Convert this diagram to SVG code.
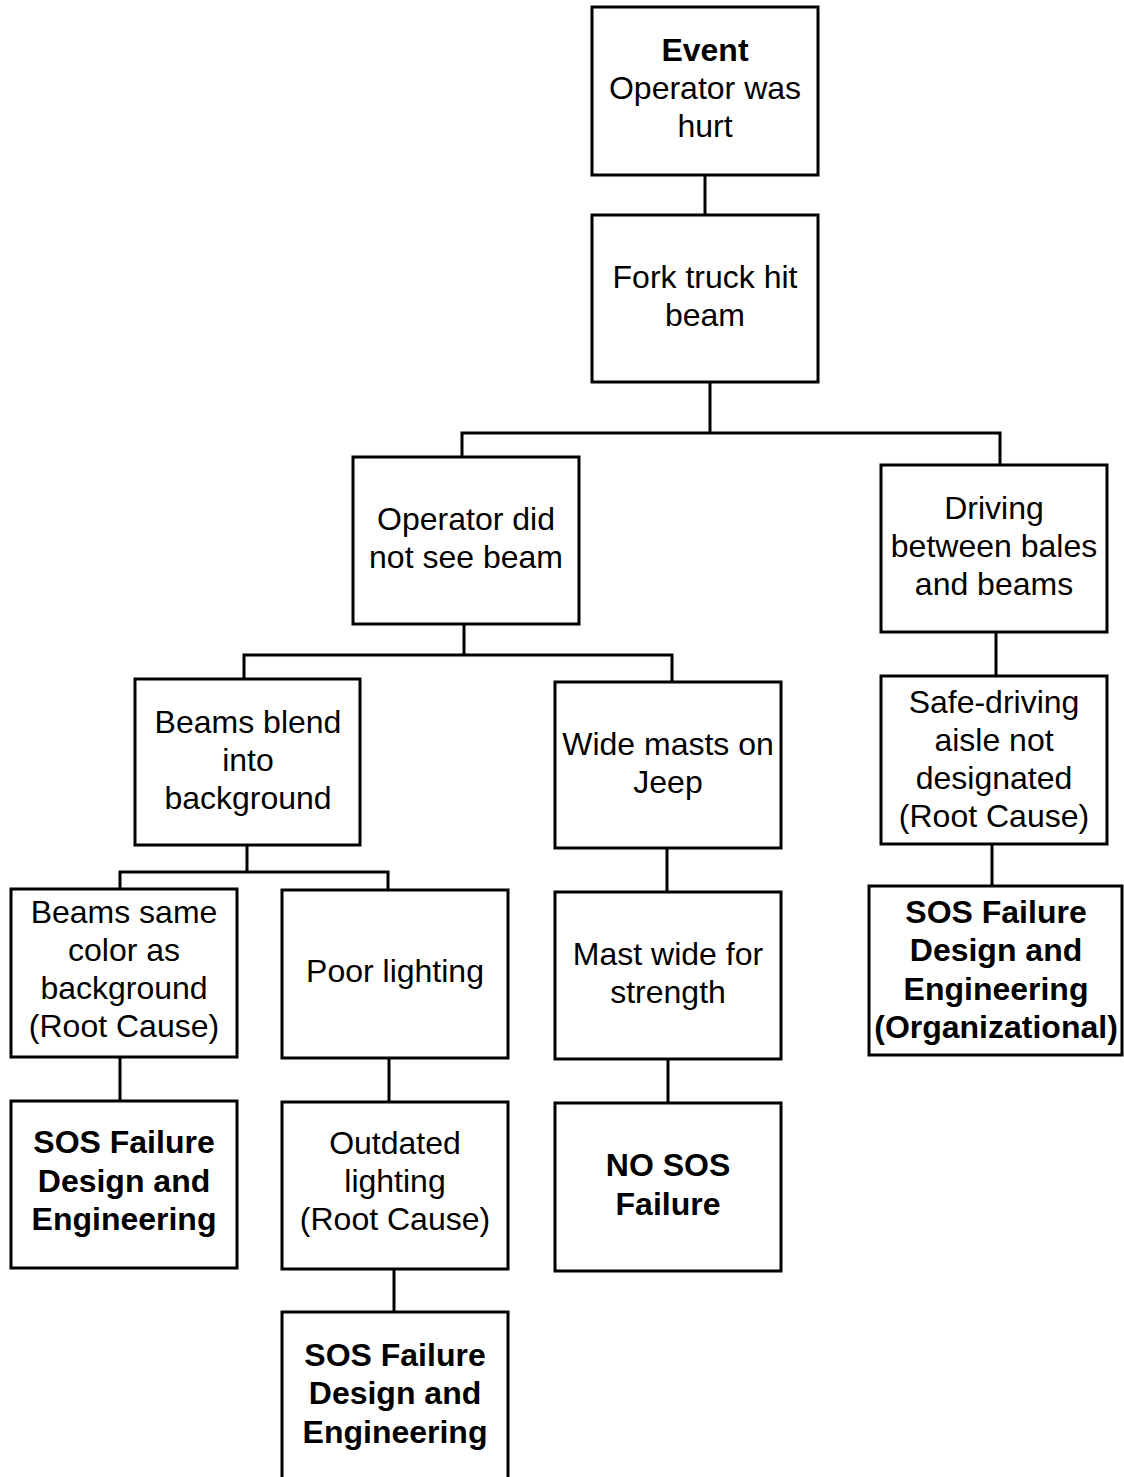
<svg xmlns="http://www.w3.org/2000/svg" width="1124" height="1477" viewBox="0 0 1124 1477">
<style>
.box{fill:#fff;stroke:#000;stroke-width:3}
.ln{fill:none;stroke:#000;stroke-width:3}
text{font-family:"Liberation Sans",Arial,sans-serif;font-size:32px;fill:#000;text-anchor:middle}
.b{font-weight:bold}
</style>
<rect width="1124" height="1477" fill="#fff"/>
<g id="connectors">
<path class="ln" d="M705 175V215"/>
<path class="ln" d="M710 382V433M462 457V433H1000V465"/>
<path class="ln" d="M464 624V655M244 679V655H672V682"/>
<path class="ln" d="M247 845V872M120 889V872H388V890"/>
<path class="ln" d="M667 848V892"/>
<path class="ln" d="M668 1059V1103"/>
<path class="ln" d="M120 1057V1101"/>
<path class="ln" d="M389 1058V1102"/>
<path class="ln" d="M394 1269V1312"/>
<path class="ln" d="M996 632V676"/>
<path class="ln" d="M992 844V886"/>
</g>
<g id="event"><rect class="box" x="592" y="7" width="226" height="168"/>
<text x="705" y="61"><tspan class="b">Event</tspan><tspan x="705" y="99">Operator was</tspan><tspan x="705" y="137">hurt</tspan></text></g>
<g id="fork"><rect class="box" x="592" y="215" width="226" height="167"/>
<text x="705" y="288">Fork truck hit<tspan x="705" y="326">beam</tspan></text></g>
<g id="opsee"><rect class="box" x="353" y="457" width="226" height="167"/>
<text x="466" y="530">Operator did<tspan x="466" y="568">not see beam</tspan></text></g>
<g id="driving"><rect class="box" x="881" y="465" width="226" height="167"/>
<text x="994" y="519">Driving<tspan x="994" y="557">between bales</tspan><tspan x="994" y="595">and beams</tspan></text></g>
<g id="blend"><rect class="box" x="135" y="679" width="225" height="166"/>
<text x="248" y="733">Beams blend<tspan x="248" y="771">into</tspan><tspan x="248" y="809">background</tspan></text></g>
<g id="wide"><rect class="box" x="555" y="682" width="226" height="166"/>
<text x="668" y="755">Wide masts on<tspan x="668" y="793">Jeep</tspan></text></g>
<g id="safe"><rect class="box" x="881" y="676" width="226" height="168"/>
<text x="994" y="713">Safe-driving<tspan x="994" y="751">aisle not</tspan><tspan x="994" y="789">designated</tspan><tspan x="994" y="827">(Root Cause)</tspan></text></g>
<g id="same"><rect class="box" x="11" y="889" width="226" height="168"/>
<text x="124" y="923">Beams same<tspan x="124" y="961">color as</tspan><tspan x="124" y="999">background</tspan><tspan x="124" y="1037">(Root Cause)</tspan></text></g>
<g id="poor"><rect class="box" x="282" y="890" width="226" height="168"/>
<text x="395" y="982">Poor lighting</text></g>
<g id="mastwide"><rect class="box" x="555" y="892" width="226" height="167"/>
<text x="668" y="965">Mast wide for<tspan x="668" y="1003">strength</tspan></text></g>
<g id="sosorg"><rect class="box" x="869" y="886" width="253" height="169"/>
<text class="b" x="996" y="923">SOS Failure<tspan x="996" y="961">Design and</tspan><tspan x="996" y="1000">Engineering</tspan><tspan x="996" y="1038">(Organizational)</tspan></text></g>
<g id="sosleft"><rect class="box" x="11" y="1101" width="226" height="167"/>
<text class="b" x="124" y="1153">SOS Failure<tspan x="124" y="1192">Design and</tspan><tspan x="124" y="1230">Engineering</tspan></text></g>
<g id="outdated"><rect class="box" x="282" y="1102" width="226" height="167"/>
<text x="395" y="1154">Outdated<tspan x="395" y="1192">lighting</tspan><tspan x="395" y="1230">(Root Cause)</tspan></text></g>
<g id="nosos"><rect class="box" x="555" y="1103" width="226" height="168"/>
<text class="b" x="668" y="1176">NO SOS<tspan x="668" y="1215">Failure</tspan></text></g>
<g id="sosbottom"><rect class="box" x="282" y="1312" width="226" height="180"/>
<text class="b" x="395" y="1366">SOS Failure<tspan x="395" y="1404">Design and</tspan><tspan x="395" y="1443">Engineering</tspan></text></g>
</svg>
